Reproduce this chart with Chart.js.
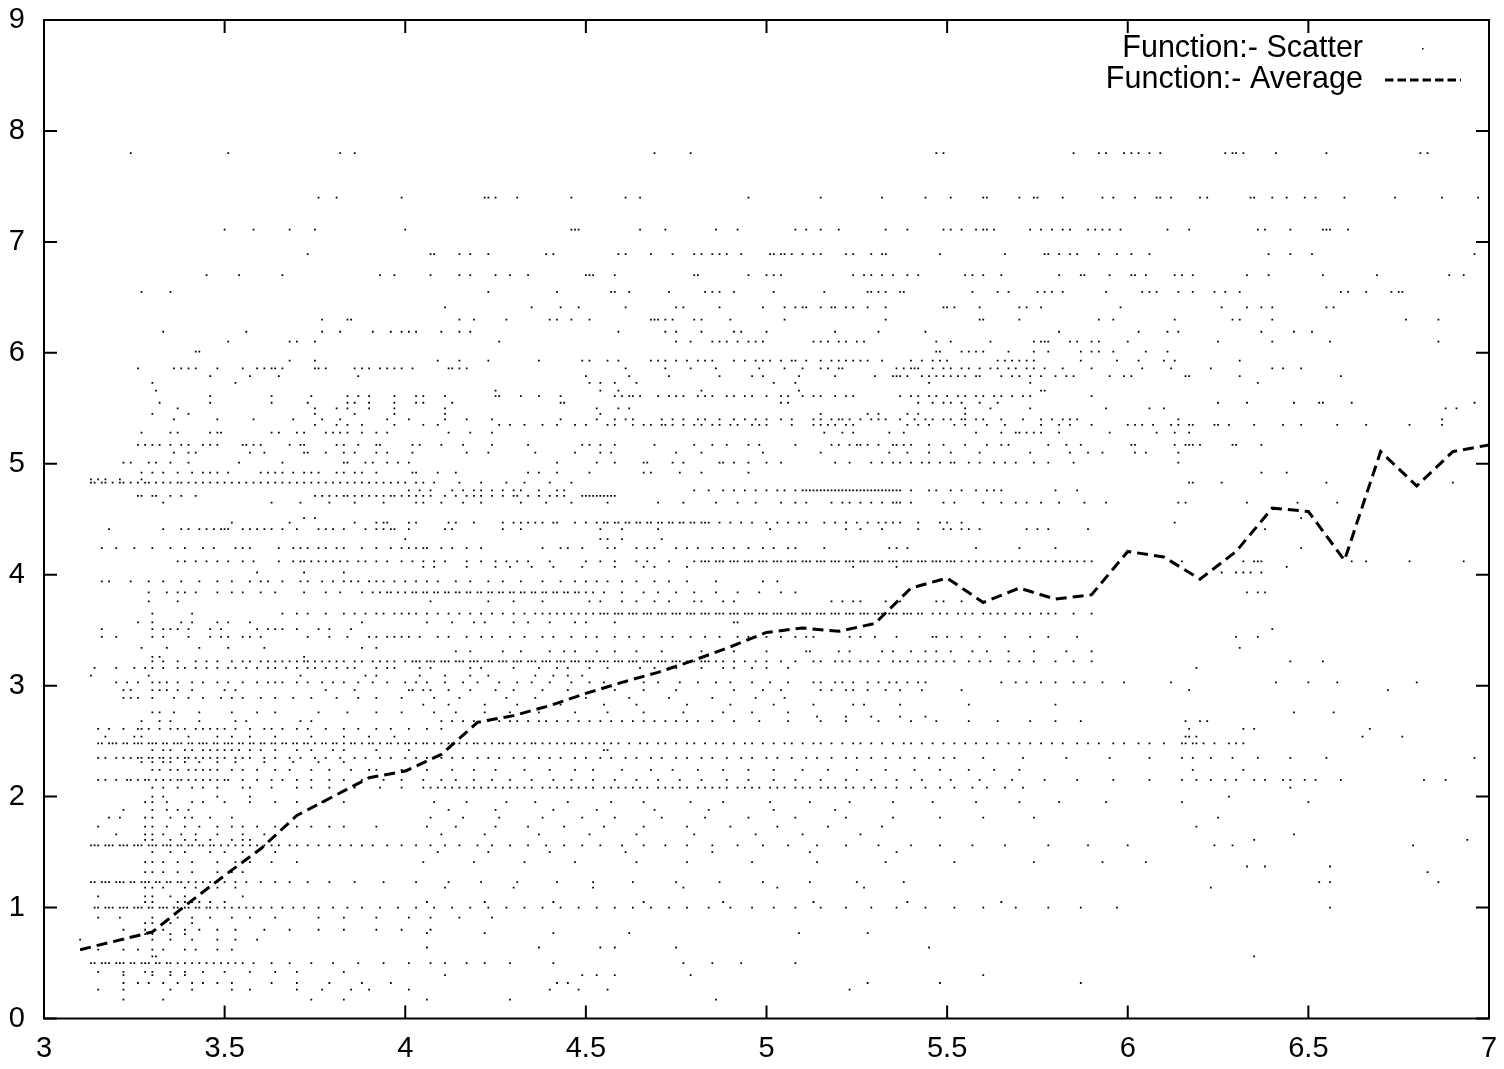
<!DOCTYPE html>
<html>
<head>
<meta charset="utf-8">
<script src="https://cdn.jsdelivr.net/npm/chart.js@4.4.1/dist/chart.umd.min.js"></script>
<style>
  html, body { margin: 0; padding: 0; background: #fff; }
  #wrap { width: 1504px; height: 1069px; }
</style>
</head>
<body>
<div id="wrap"><canvas id="chart" width="1504" height="1069"></canvas></div>
<script>
// averages per x step
const avgX = [3.1, 3.2, 3.3, 3.4, 3.5, 3.6, 3.7, 3.8, 3.9, 4.0, 4.1, 4.2, 4.3, 4.4, 4.5, 4.6, 4.7, 4.8, 4.9, 5.0,
              5.1, 5.2, 5.3, 5.4, 5.5, 5.6, 5.7, 5.8, 5.9, 6.0, 6.1, 6.2, 6.3, 6.4, 6.5, 6.6, 6.7, 6.8, 6.9, 7.0];
const avgY = [0.62, 0.70, 0.78, 1.04, 1.29, 1.53, 1.83, 2.00, 2.17, 2.23, 2.38, 2.67, 2.73, 2.82, 2.93, 3.03, 3.12, 3.23, 3.35, 3.48,
              3.52, 3.49, 3.56, 3.88, 3.97, 3.75, 3.88, 3.78, 3.82, 4.21, 4.16, 3.96, 4.21, 4.60, 4.57, 4.13, 5.11, 4.80, 5.11, 5.17];

const xTicks = [3, 3.5, 4, 4.5, 5, 5.5, 6, 6.5, 7];
const yTicks = [0, 1, 2, 3, 4, 5, 6, 7, 8, 9];

// scatter rows: [y level, x values]
const scatterHigh = [
  [7.80, [3.24,3.51,3.82,3.86,4.69,4.79,5.47,5.49,5.85,5.92,5.94,5.99,6.01,6.03,6.06,6.09,6.27,6.29,6.30,6.32,6.41,6.55,6.81,6.83]],
  [7.40, [3.76,3.81,3.99,4.22,4.23,4.25,4.31,4.46,4.61,4.65,4.95,5.15,5.32,5.44,5.51,5.60,5.61,5.70,5.74,5.75,5.82,5.93,5.96,6.02,6.08,6.09,6.12,6.20,6.22,6.34,6.35,6.40,6.44,6.49,6.52,6.60,6.74,6.87,6.97]],
  [7.11, [3.50,3.58,3.68,3.75,4.00,4.46,4.47,4.48,4.65,4.72,4.86,4.92,5.08,5.11,5.15,5.20,5.33,5.39,5.49,5.51,5.54,5.58,5.60,5.61,5.63,5.73,5.76,5.79,5.82,5.84,5.89,5.91,5.93,5.95,5.98,6.11,6.17,6.36,6.38,6.45,6.54,6.55,6.56,6.61]],
  [6.89, [3.73,4.07,4.08,4.15,4.18,4.23,4.39,4.41,4.59,4.61,4.68,4.74,4.80,4.82,4.85,4.87,4.89,4.93,5.01,5.02,5.04,5.05,5.07,5.10,5.13,5.15,5.22,5.24,5.29,5.32,5.33,5.48,5.66,5.77,5.78,5.81,5.84,5.86,5.92,5.97,6.01,6.06,6.39,6.45,6.51,6.96]],
  [6.70, [3.45,3.54,3.66,3.93,3.97,4.07,4.15,4.18,4.25,4.29,4.34,4.50,4.51,4.52,4.58,4.80,4.81,4.95,5.00,5.02,5.04,5.24,5.27,5.29,5.32,5.35,5.39,5.42,5.55,5.57,5.60,5.65,5.81,5.87,5.88,5.95,6.01,6.02,6.05,6.13,6.15,6.18,6.33,6.39,6.54,6.69,6.89,6.93]],
  [6.55, [3.27,3.35,4.23,4.42,4.57,4.58,4.62,4.73,4.83,4.85,4.87,4.91,5.02,5.16,5.28,5.29,5.31,5.33,5.37,5.38,5.57,5.64,5.67,5.75,5.77,5.79,5.82,5.94,6.04,6.06,6.08,6.14,6.18,6.24,6.27,6.31,6.59,6.61,6.66,6.73,6.75,6.76]],
  [6.41, [4.11,4.35,4.43,4.48,4.61,4.75,4.77,4.87,4.99,5.05,5.08,5.10,5.11,5.15,5.18,5.19,5.22,5.24,5.28,5.33,5.49,5.50,5.52,5.59,5.70,5.72,5.76,5.98,6.26,6.33,6.37,6.40,6.55,6.57]],
  [6.30, [3.77,3.84,3.85,4.15,4.19,4.28,4.40,4.42,4.46,4.51,4.68,4.69,4.70,4.72,4.74,4.80,4.82,4.90,5.05,5.33,5.59,5.60,5.70,5.92,5.96,6.13,6.29,6.31,6.40,6.77,6.86]],
  [6.19, [3.33,3.56,3.77,3.82,3.91,3.96,3.99,4.01,4.03,4.10,4.15,4.18,4.59,4.72,4.75,4.82,4.91,4.93,5.00,5.19,5.31,5.44,5.81,6.03,6.11,6.14,6.37,6.46,6.51]],
  [6.10, [3.51,3.68,3.70,3.75,4.26,4.75,4.79,4.85,4.87,4.89,4.92,4.95,4.97,4.99,5.13,5.15,5.17,5.20,5.22,5.25,5.27,5.47,5.51,5.62,5.74,5.76,5.77,5.78,5.84,5.86,5.90,5.92,6.00,6.25,6.40,6.56,6.86]],
  [6.01, [3.42,3.43,5.47,5.48,5.54,5.56,5.58,5.60,5.67,5.74,5.78,5.87,5.90,5.92,5.96,6.05,6.11]],
  [5.93, [3.68,3.75,4.09,4.15,4.23,4.37,4.49,4.51,4.56,4.59,4.68,4.70,4.72,4.75,4.78,4.81,4.83,4.85,4.91,4.94,4.97,4.99,5.01,5.04,5.07,5.08,5.11,5.15,5.18,5.20,5.22,5.24,5.26,5.28,5.32,5.40,5.43,5.46,5.48,5.50,5.64,5.66,5.68,5.70,5.72,5.74,5.87,5.97,6.03,6.10,6.13,6.31]],
  [5.86, [3.26,3.36,3.38,3.40,3.42,3.48,3.55,3.59,3.61,3.63,3.64,3.66,3.75,3.76,3.78,3.86,3.88,3.90,3.93,3.95,3.97,3.99,4.02,4.12,4.13,4.15,4.17,4.61,4.72,4.79,4.86,4.98,5.05,5.10,5.15,5.17,5.20,5.21,5.36,5.38,5.40,5.41,5.42,5.46,5.49,5.51,5.54,5.56,5.59,5.62,5.64,5.67,5.69,5.72,5.74,5.77,5.82,5.90,6.04,6.12,6.23,6.40,6.43,6.48]],
  [5.79, [3.46,3.57,3.65,3.87,4.50,4.62,4.73,4.87,4.96,4.99,5.09,5.19,5.30,5.35,5.36,5.37,5.39,5.43,5.45,5.47,5.49,5.51,5.53,5.55,5.58,5.59,5.65,5.68,5.70,5.73,5.76,5.80,5.83,5.85,5.95,5.99,6.01,6.16,6.17,6.31,6.59]],
  [5.73, [3.30,3.53,4.51,4.54,4.58,4.64,5.02,5.08,5.45,5.73,6.36]],
  [5.66, [3.31,4.25,4.54,4.59,4.82,5.09,5.76,5.77]],
  [5.61, [3.46,3.63,3.74,3.84,3.87,3.90,3.97,4.03,4.05,4.11,4.25,4.26,4.32,4.37,4.43,4.58,4.60,4.62,4.63,4.65,4.70,4.73,4.75,4.77,4.81,4.83,4.85,4.89,4.91,4.94,4.96,5.00,5.04,5.06,5.10,5.13,5.15,5.19,5.22,5.24,5.37,5.40,5.42,5.45,5.47,5.50,5.53,5.55,5.58,5.60,5.63,5.65,5.68,5.71,5.73,5.90]],
  [5.55, [3.32,3.46,3.63,3.73,3.84,3.86,3.90,3.97,4.03,4.05,4.13,4.43,4.44,5.04,5.06,5.42,5.46,5.49,5.51,5.54,5.59,5.64,6.25,6.33,6.46,6.53,6.54,6.62,6.96]],
  [5.50, [3.37,3.75,3.81,3.84,3.90,3.97,4.11,4.53,4.59,4.62,5.55,5.62,5.73,5.94,6.06,6.10,6.88,6.91]],
  [5.45, [3.30,3.40,3.75,3.86,3.97,4.11,4.54,5.15,5.28,5.31,5.39,5.42,5.55]],
  [5.40, [3.36,3.48,3.58,3.69,3.77,3.82,3.95,4.01,4.11,4.17,4.24,4.43,4.53,4.58,4.61,4.63,4.71,4.74,4.77,4.81,4.83,4.87,4.91,4.94,4.97,5.00,5.04,5.07,5.13,5.15,5.18,5.20,5.21,5.23,5.26,5.29,5.31,5.33,5.37,5.41,5.44,5.46,5.49,5.51,5.54,5.55,5.58,5.60,5.65,5.71,5.76,5.79,5.82,5.84,5.86,6.14,6.87]],
  [5.35, [3.75,3.81,3.84,3.88,3.97,4.05,4.09,4.26,4.29,4.33,4.38,4.42,4.47,4.50,4.56,4.58,4.63,4.66,4.68,4.71,4.72,4.74,4.77,4.80,4.82,4.85,4.87,4.90,4.92,4.96,4.98,5.00,5.07,5.13,5.15,5.17,5.19,5.22,5.24,5.39,5.42,5.45,5.52,5.55,5.61,5.66,5.76,5.81,5.84,5.90,6.00,6.02,6.04,6.07,6.12,6.14,6.17,6.18,6.24,6.25,6.28,6.35,6.43,6.48,6.58,6.66,6.78,6.87]]
];

const scatterMid = [
  [5.28, [3.27,3.35,3.37,3.46,3.48,3.49,3.63,3.65,3.70,3.72,3.78,3.80,3.82,3.84,3.88,3.92,3.95,4.12,4.18,4.24,5.16,5.21,5.24,5.34,5.38,5.58,5.65,5.69,5.70,5.72,5.74,5.76,5.81,5.95,6.08,6.13,6.17]],
  [5.17, [3.26,3.28,3.30,3.32,3.35,3.38,3.40,3.44,3.46,3.48,3.55,3.56,3.58,3.60,3.68,3.71,3.72,3.81,3.83,3.87,3.92,3.93,4.02,4.04,4.10,4.16,4.24,4.34,4.49,4.51,4.54,4.58,4.69,4.80,4.85,4.89,4.95,4.98,5.08,5.18,5.20,5.23,5.25,5.26,5.28,5.31,5.35,5.36,5.38,5.40,5.45,5.49,5.55,5.61,5.65,5.67,5.78,5.83,5.87,6.01,6.02,6.13,6.16,6.17,6.18,6.20,6.29,6.30,6.37]],
  [5.10, [3.36,3.40,3.42,3.57,3.61,3.72,3.73,3.78,3.83,3.86,3.92,3.95,4.02,4.17,4.23,4.36,4.47,4.54,4.57,4.75,4.82,4.99,5.15,5.34,5.39,5.45,5.51,5.59,5.73,5.84,5.89,5.93,6.02,6.05,6.14]],
  [5.01, [3.22,3.24,3.29,3.31,3.35,3.40,3.54,3.66,3.83,3.84,3.89,3.91,3.95,3.98,4.01,4.42,4.53,4.58,4.66,4.67,4.74,4.77,4.87,4.88,4.91,4.95,5.00,5.04,5.19,5.23,5.29,5.32,5.35,5.37,5.40,5.43,5.45,5.48,5.51,5.52,5.56,5.59,5.63,5.66,5.69,5.74,5.78,5.85,6.14]],
  [4.92, [3.27,3.30,3.33,3.37,3.41,3.44,3.46,3.48,3.51,3.60,3.62,3.64,3.66,3.69,3.72,3.74,3.76,3.81,3.83,3.86,3.88,3.92,4.02,4.03,4.09,4.14,4.34,4.37,4.42,4.51,4.66,4.68,4.76,4.82,4.95,6.37,6.44]],
  [4.86, [3.13,3.15,3.17,3.21,3.27]],
  [4.83, [3.13,3.14,3.16,3.17,3.19,3.21,3.22,3.24,3.26,3.28,3.29,3.31,3.33,3.35,3.37,3.38,3.40,3.42,3.44,3.46,3.48,3.50,3.52,3.54,3.56,3.58,3.60,3.62,3.64,3.66,3.68,3.70,3.72,3.74,3.76,3.78,3.80,3.82,3.84,3.86,3.88,3.90,3.92,3.94,3.96,3.98,4.00,4.03,4.05,4.08,4.15,4.21,4.28,4.33,4.40,4.46,6.17,6.18,6.26,6.55,6.90]],
  [4.76, [4.01,4.04,4.07,4.13,4.16,4.19,4.21,4.24,4.27,4.30,4.32,4.37,4.42,4.44,4.80,4.84,4.88,4.91,4.94,4.97,5.00,5.03,5.05,5.08,5.10,5.11,5.12,5.13,5.14,5.15,5.16,5.17,5.18,5.19,5.20,5.21,5.22,5.23,5.24,5.25,5.26,5.27,5.28,5.29,5.30,5.31,5.32,5.33,5.34,5.35,5.36,5.37,5.40,5.45,5.47,5.51,5.54,5.58,5.61,5.63,5.65,5.80,5.86]],
  [4.71, [3.26,3.27,3.30,3.31,3.35,3.38,3.42,3.75,3.77,3.79,3.81,3.83,3.84,3.86,3.88,3.90,3.92,3.94,3.96,3.97,3.99,4.01,4.03,4.05,4.07,4.11,4.14,4.17,4.19,4.21,4.24,4.27,4.30,4.31,4.34,4.37,4.40,4.42,4.44,4.49,4.50,4.51,4.52,4.53,4.54,4.55,4.56,4.57,4.58]],
  [4.65, [3.33,3.63,3.71,3.79,3.86,3.94,4.03,4.05,4.10,4.16,4.21,4.32,4.39,4.46,4.56,4.70,4.77,4.86,4.92,4.97,5.04,5.08,5.11,5.18,5.21,5.23,5.26,5.29,5.32,5.35,5.36,5.37,5.40,5.49,5.52,5.60,5.65,5.69,5.72,5.76,5.81,5.88,5.94,6.14,6.16,6.33,6.47,6.58]],
  [4.51, [3.72,3.75,6.48]],
  [4.47, [3.52,3.68,3.86,3.92,3.94,3.95,4.01,4.03,4.12,4.14,4.19,4.27,4.30,4.32,4.34,4.36,4.38,4.41,4.42,4.47,4.50,4.53,4.55,4.56,4.58,4.59,4.61,4.62,4.64,4.65,4.67,4.68,4.70,4.71,4.73,4.74,4.76,4.77,4.79,4.80,4.82,4.83,4.84,4.87,4.90,4.93,4.96,5.00,5.03,5.06,5.09,5.11,5.16,5.19,5.22,5.25,5.28,5.31,5.33,5.35,5.37,5.42,5.48,5.50,5.54,6.13]],
  [4.41, [3.18,3.33,3.38,3.40,3.43,3.45,3.47,3.49,3.50,3.51,3.55,3.57,3.59,3.61,3.63,3.66,3.70,3.76,3.78,3.80,3.83,3.89,3.92,3.94,3.96,3.97,4.01,4.11,4.13,4.27,4.32,4.54,4.60,4.70,5.01,5.22,5.26,5.32,5.42,5.49,5.51,5.54,5.56,5.59,5.72,5.75,5.78,5.89,6.38]],
  [4.32, [4.00,4.54,4.56,4.60,4.71]],
  [4.24, [3.16,3.20,3.25,3.30,3.35,3.39,3.44,3.47,3.53,3.55,3.57,3.65,3.69,3.71,3.73,3.76,3.78,3.81,3.83,3.88,3.92,3.96,3.99,4.01,4.03,4.05,4.06,4.10,4.13,4.17,4.21,4.38,4.43,4.45,4.49,4.56,4.58,4.64,4.67,4.69,4.75,4.78,4.81,4.85,4.88,4.91,4.95,4.99,5.02,5.06,5.08,5.16,5.34,5.36,5.39,5.58,5.70,5.80,6.48]],
  [4.12, [3.37,3.39,3.42,3.45,3.48,3.51,3.55,3.58,3.65,3.69,3.71,3.72,3.74,3.76,3.78,3.80,3.82,3.84,3.87,3.89,3.92,3.95,3.99,4.02,4.05,4.08,4.11,4.17,4.21,4.25,4.28,4.31,4.34,4.40,4.50,4.54,4.58,4.64,4.67,4.73,4.80,4.82,4.83,4.84,4.86,4.87,4.88,4.90,4.91,4.92,4.94,4.95,4.96,4.98,4.99,5.00,5.02,5.03,5.04,5.06,5.07,5.08,5.10,5.11,5.12,5.14,5.15,5.16,5.18,5.19,5.20,5.22,5.23,5.24,5.26,5.27,5.28,5.30,5.31,5.32,5.34,5.35,5.36,5.38,5.39,5.40,5.42,5.43,5.44,5.46,5.47,5.48,5.50,5.51,5.52,5.54,5.56,5.58,5.60,5.62,5.64,5.66,5.68,5.70,5.72,5.74,5.76,5.78,5.80,5.82,5.84,5.86,5.88,5.90,6.15,6.32,6.35,6.36,6.37,6.62,6.66,6.78,6.93]],
  [4.07, [4.05,4.08,4.17,4.25,4.29,4.35,4.41,4.49,4.58,4.66,4.69,4.78,5.24,5.36,6.44]],
  [4.02, [3.59,3.72,3.83,6.26,6.30,6.32,6.34,6.37]],
  [3.94, [3.16,3.18,3.24,3.29,3.33,3.38,3.43,3.48,3.52,3.57,3.60,3.62,3.66,3.71,3.73,3.77,3.80,3.83,3.85,3.87,3.90,3.92,3.94,3.97,4.00,4.03,4.06,4.09,4.14,4.18,4.23,4.27,4.32,4.38,4.43,4.47,4.50,4.53,4.56,4.60,4.64,4.69,4.73,4.78,4.86,4.99,5.03]],
  [3.84, [3.29,3.34,3.37,3.39,3.42,3.48,3.52,3.55,3.60,3.64,3.72,3.78,3.82,3.88,3.91,3.93,3.95,3.96,3.98,4.00,4.02,4.03,4.05,4.06,4.08,4.09,4.11,4.12,4.14,4.15,4.17,4.18,4.20,4.21,4.23,4.24,4.26,4.27,4.29,4.30,4.32,4.33,4.35,4.36,4.38,4.39,4.41,4.42,4.44,4.45,4.47,4.48,4.50,4.52,4.55,4.60,4.66,4.70,4.75,4.80,4.86,4.92,4.98,5.04,5.08,6.33,6.36,6.38]],
  [3.76, [3.29,3.37,4.07,4.23,4.30,4.38,4.51,4.54,4.60,4.64,4.69,4.73,4.80,4.82,4.88,4.91,5.18,5.21,5.24,5.26,5.33,5.37,5.47,5.49,5.54]],
  [3.65, [3.30,3.41,3.66,3.70,3.73,3.78,3.83,3.86,3.89,3.92,3.94,3.97,3.99,4.01,4.03,4.06,4.09,4.12,4.15,4.18,4.21,4.24,4.27,4.30,4.33,4.36,4.38,4.40,4.42,4.44,4.46,4.48,4.50,4.52,4.54,4.55,4.56,4.58,4.59,4.60,4.62,4.63,4.64,4.66,4.67,4.68,4.70,4.71,4.72,4.74,4.75,4.76,4.78,4.79,4.80,4.82,4.83,4.84,4.86,4.87,4.88,4.90,4.91,4.92,4.94,4.95,4.96,4.98,4.99,5.00,5.02,5.03,5.04,5.06,5.07,5.08,5.10,5.11,5.12,5.14,5.15,5.16,5.18,5.19,5.20,5.22,5.23,5.24,5.26,5.27,5.28,5.30,5.31,5.32,5.34,5.35,5.36,5.38,5.39,5.40,5.42,5.43,5.46,5.48,5.50,5.53,5.55,5.57,5.60,5.62,5.64,5.66,5.69,5.71,5.73,5.76,5.78,5.80,5.85,5.90]],
  [3.57, [3.26,3.30,3.38,3.41,3.48,3.51,3.57,3.88,4.06,4.13,4.19,4.22,4.30,4.34,4.40,4.47,4.50,4.58,4.91,4.92]],
  [3.51, [3.16,3.30,3.33,3.35,3.37,3.40,3.46,3.49,3.59,3.62,3.64,3.66,3.70,3.76,3.79,3.85,6.40]],
  [3.44, [3.16,3.20,3.30,3.33,3.40,3.46,3.49,3.51,3.55,3.57,3.60,3.73,3.79,3.84,3.90,3.92,3.95,3.97,3.99,4.01,4.04,4.09,4.12,4.17,4.21,4.24,4.29,4.33,4.38,4.41,4.46,4.50,4.53,4.58,4.62,4.66,4.71,4.74,4.79,4.83,4.87,4.92,4.95,5.00,5.04,5.08,5.11,5.13,5.23,5.26,5.30,5.36,5.46,5.47,5.50,5.54,5.59,5.66,5.73,5.78,5.86,6.30,6.36]],
  [3.34, [3.27,3.34,3.43,3.51,3.61,3.88,3.92,6.31]],
  [3.31, [4.14,4.18,4.27,4.32,4.40,4.44,4.47,4.53,4.58,4.64,4.71,4.82,4.91,5.00,5.11,5.12,5.20,5.23,5.32,5.35,5.40,5.44,5.47,5.51,5.57,5.61,5.67,5.74,5.83,5.90]],
  [3.26, [3.30,3.32,3.72]],
  [3.22, [3.30,3.33,3.37,3.42,3.45,3.48,3.52,3.55,3.57,3.60,3.62,3.64,3.66,3.68,3.70,3.72,3.73,3.75,3.77,3.79,3.81,3.83,3.86,3.88,3.91,3.93,3.95,3.97,4.00,4.02,4.03,4.04,4.06,4.07,4.08,4.10,4.11,4.12,4.14,4.15,4.16,4.18,4.19,4.20,4.22,4.23,4.24,4.26,4.27,4.28,4.30,4.31,4.32,4.34,4.35,4.36,4.38,4.39,4.40,4.42,4.43,4.44,4.46,4.47,4.48,4.50,4.51,4.52,4.54,4.55,4.56,4.58,4.59,4.60,4.62,4.63,4.64,4.66,4.67,4.68,4.70,4.71,4.72,4.74,4.75,4.76,4.78,4.79,4.80,4.82,4.83,4.84,4.86,4.88,4.91,4.94,4.97,5.00,5.04,5.08,5.13,5.15,5.19,5.21,5.23,5.26,5.28,5.31,5.35,5.37,5.39,5.42,5.44,5.47,5.49,5.52,5.56,5.59,5.62,5.67,5.70,5.74,5.80,5.85,5.90,6.45,6.54]],
  [3.16, [3.14,3.20,3.25,3.28,3.30,3.33,3.37,3.39,3.42,3.45,3.48,3.51,3.53,3.56,3.59,3.62,3.64,3.67,3.70,3.73,3.75,3.78,3.81,3.84,3.86,3.92,3.95,3.97,4.04,4.07,4.18,4.21,4.30,4.37,4.42,4.45,4.51,4.56,4.65,4.69,4.75,4.82,4.88,4.91,4.96,5.00,5.06,6.19]],
  [3.09, [3.13,3.29,3.71,3.89,3.92,4.04,4.11,4.18,4.23,4.36,4.41,4.45,4.49]],
  [3.03, [3.20,3.23,3.26,3.30,3.32,3.34,3.37,3.41,3.44,3.48,3.51,3.55,3.59,3.62,3.64,3.66,3.70,3.73,3.77,3.80,3.83,3.87,3.91,3.95,4.00,4.03,4.06,4.11,4.16,4.20,4.26,4.31,4.35,4.40,4.46,4.51,4.55,4.61,4.66,4.70,4.76,4.81,4.86,4.90,4.96,5.01,5.06,5.13,5.15,5.19,5.21,5.24,5.28,5.31,5.34,5.36,5.39,5.42,5.44,5.65,5.69,5.72,5.76,5.80,5.85,5.88,5.93,5.99,6.12,6.41,6.50,6.58,6.80]],
  [2.96, [3.22,3.24,3.30,3.32,3.34,3.37,3.41,3.50,3.53,3.78,3.86,4.01,4.02,4.05,4.07,4.12,4.18,4.25,4.30,4.38,4.45,4.58,4.66,4.75,4.91,4.99,5.04,5.15,5.18,5.22,5.24,5.28,5.33,5.37,5.43,5.54,6.17,6.72]],
  [2.89, [3.22,3.24,3.26,3.30,3.36,3.40,3.44,3.49,3.52,3.55,3.60,3.64,3.69,3.74,3.81,3.87,3.92,3.99,4.08,4.15,4.28,4.36,4.50,4.62,4.73,4.85,4.97,5.05]],
  [2.83, [4.05,4.12,4.22,4.31,4.43,4.55,4.64,4.78,4.90,5.02,5.13,5.24,5.27,5.37,5.56,5.80]]
];

const scatterLow = [
  [2.76, [3.30,3.32,3.36,3.43,3.52,3.59,3.64,3.76,3.84,3.92,3.99,4.08,4.14,4.22,4.29,4.37,4.47,4.56,4.66,4.77,4.88,4.96,5.06,6.46,6.57]],
  [2.72, [5.14,5.22,5.29,5.37,5.44]],
  [2.68, [3.27,3.32,3.35,3.43,3.53,3.56,3.71,3.74,4.10,4.13,4.16,4.19,4.23,4.26,4.29,4.31,4.34,4.37,4.39,4.42,4.45,4.48,4.51,4.54,4.57,4.60,4.63,4.66,4.69,4.72,4.75,4.78,4.81,4.85,4.91,4.98,5.06,5.15,5.22,5.31,5.40,5.47,5.56,5.64,5.73,5.80,5.87,6.16,6.20,6.22]],
  [2.61, [3.15,3.18,3.22,3.26,3.27,3.29,3.32,3.35,3.37,3.39,3.42,3.44,3.46,3.48,3.50,3.53,3.57,3.61,3.63,3.66,3.70,3.73,3.78,3.83,3.87,3.92,3.96,4.01,4.06,4.10,6.17,6.32,6.35,6.67]],
  [2.54, [3.17,3.25,3.27,3.40,3.48,3.52,3.57,3.64,3.74,3.83,3.90,3.97,6.16,6.17,6.19,6.65,6.76]],
  [2.48, [3.15,3.16,3.18,3.19,3.20,3.22,3.23,3.25,3.26,3.27,3.29,3.30,3.31,3.33,3.34,3.36,3.37,3.38,3.40,3.41,3.43,3.44,3.45,3.47,3.48,3.50,3.51,3.52,3.54,3.55,3.57,3.58,3.60,3.61,3.63,3.64,3.66,3.67,3.69,3.70,3.72,3.73,3.75,3.77,3.78,3.80,3.81,3.83,3.85,3.86,3.88,3.90,3.91,3.93,3.95,3.96,3.98,4.00,4.01,4.03,4.05,4.06,4.08,4.10,4.12,4.13,4.15,4.17,4.19,4.20,4.22,4.24,4.26,4.27,4.29,4.31,4.33,4.35,4.36,4.38,4.40,4.42,4.44,4.46,4.47,4.49,4.51,4.53,4.55,4.57,4.59,4.62,4.65,4.67,4.70,4.72,4.75,4.78,4.80,4.83,4.86,4.88,4.91,4.94,4.96,4.99,5.02,5.05,5.07,5.10,5.13,5.15,5.18,5.21,5.24,5.26,5.29,5.32,5.35,5.38,5.40,5.43,5.46,5.49,5.52,5.55,5.58,5.61,5.64,5.67,5.70,5.73,5.76,5.79,5.82,5.86,5.89,5.92,5.96,5.99,6.03,6.06,6.10,6.15,6.16,6.18,6.19,6.21,6.24,6.28,6.30,6.32]],
  [2.42, [3.30,3.33,3.35,3.39,3.41,3.44,3.46,3.48,3.50,3.52,3.54,3.57,3.60,3.64,3.70,3.74,3.80,3.83,3.92,4.01,4.55,4.56]],
  [2.35, [3.15,3.17,3.20,3.22,3.24,3.26,3.27,3.29,3.30,3.32,3.33,3.35,3.37,3.39,3.40,3.42,3.44,3.46,3.48,3.50,3.53,3.55,3.57,3.61,3.64,3.68,3.71,3.75,3.78,3.82,3.86,3.89,3.93,3.96,4.00,4.03,4.06,4.10,4.13,4.16,4.20,4.23,4.26,4.30,4.33,4.37,4.40,4.43,4.47,4.50,4.54,4.57,4.61,4.64,4.68,4.71,4.75,4.78,4.82,4.85,4.89,4.93,4.96,5.00,5.03,5.07,5.11,5.14,5.18,5.22,5.25,5.29,5.33,5.37,5.41,5.45,5.49,5.52,5.60,5.71,5.83,5.95,6.06,6.15,6.18,6.23,6.29,6.36,6.45,6.55,6.96]],
  [2.31, [3.27,3.30,3.33,3.35,3.39,3.43,3.48,3.53,3.61,3.69,3.76,3.83]],
  [2.24, [3.30,3.32,3.35,3.37,3.40,3.42,3.44,3.46,3.48,3.52,3.55,3.59,3.64,3.68,3.74,3.79,3.85,3.90,3.92,3.99,4.06,4.13,4.19,4.25,4.33,4.40,4.47,4.52,4.60,4.68,4.74,4.81,4.88,4.95,5.02,5.10,5.17,5.25,5.33,5.41,5.48,5.56,5.63,5.70,6.18,6.32]],
  [2.15, [3.15,3.17,3.20,3.23,3.24,3.26,3.28,3.29,3.31,3.33,3.35,3.37,3.38,3.40,3.42,3.44,3.46,3.48,3.50,3.51,3.55,3.59,3.63,3.66,3.70,3.74,3.79,3.83,3.88,3.94,3.99,4.05,4.10,4.14,4.19,4.24,4.29,4.35,4.41,4.46,4.52,4.58,4.64,4.70,4.76,4.82,4.89,4.95,5.02,5.08,5.15,5.22,5.29,5.36,5.43,5.51,5.59,5.68,5.77,5.86,5.96,6.06,6.15,6.19,6.23,6.27,6.30,6.35,6.38,6.43,6.45,6.49,6.52,6.59,6.82,6.88]],
  [2.08, [3.30,3.33,3.37,3.41,3.44,3.48,3.55,3.57,3.63,3.70,3.74,3.79,3.86,3.93,3.99,4.05,4.07,4.09,4.11,4.13,4.15,4.17,4.19,4.21,4.23,4.25,4.27,4.29,4.31,4.33,4.35,4.38,4.40,4.42,4.44,4.46,4.48,4.50,4.52,4.55,4.57,4.59,4.61,4.63,4.65,4.67,4.70,4.72,4.74,4.76,4.78,4.81,4.83,4.85,4.87,4.89,4.92,4.94,4.96,4.98,5.01,5.03,5.05,5.08,5.10,5.12,5.15,5.17,5.19,5.22,5.24,5.27,5.30,5.33,5.36,5.40,5.44,5.48,5.52,5.57,5.61,5.66,5.71,6.45]],
  [2.00, [3.30,3.33,3.48,3.57,6.28]],
  [1.95, [3.28,3.30,3.34,3.41,3.44,3.50,3.57,3.64,3.70,3.77,3.83,4.08,4.17,4.28,4.36,4.45,4.57,4.66,4.79,4.88,5.01,5.12,5.23,5.35,5.46,5.58,5.70,5.81,5.94,6.15,6.50]],
  [1.88, [3.22,3.30,3.34,3.37,3.40,4.12,4.25,4.41,4.53,4.69,4.84,5.02,5.19]],
  [1.81, [3.18,3.21,3.28,3.30,3.35,3.39,3.41,3.46,3.52,4.07,4.16,4.26,4.38,4.49,4.58,4.71,4.83,4.95,5.08,5.22,5.35,5.48,5.60,5.74,6.25]],
  [1.73, [3.15,3.28,3.30,3.34,3.39,3.43,3.48,3.52,3.55,3.59,3.64,3.70,3.74,3.79,3.83,3.92,4.06,4.14,4.25,4.34,4.44,4.55,4.66,4.78,4.90,5.03,5.17,5.32,6.19]],
  [1.66, [3.20,3.28,3.30,3.33,3.38,3.42,3.48,3.55,3.61,4.10,4.22,4.37,4.51,4.64,4.80,4.97,5.10,5.26,6.46]],
  [1.61, [3.28,3.30,3.35,3.39,3.42,3.46,3.52,3.55,3.57,6.35,6.94]],
  [1.56, [3.13,3.14,3.15,3.17,3.18,3.19,3.21,3.22,3.23,3.25,3.26,3.27,3.29,3.30,3.31,3.33,3.34,3.35,3.37,3.38,3.40,3.41,3.43,3.44,3.46,3.47,3.49,3.51,3.53,3.55,3.57,3.59,3.61,3.63,3.65,3.68,3.70,3.73,3.76,3.79,3.82,3.85,3.88,3.91,3.95,3.99,4.03,4.07,4.11,4.15,4.20,4.24,4.29,4.34,4.39,4.44,4.49,4.54,4.60,4.66,4.72,4.78,4.85,4.92,4.99,5.06,5.14,5.22,5.31,5.40,5.48,5.57,5.66,5.78,5.89,6.00,6.24,6.29,6.79]],
  [1.50, [3.30,3.35,3.39,3.46,3.50,3.55,3.64,4.09,4.23,4.40,4.61,4.85,5.12,5.36]],
  [1.41, [3.28,3.30,3.33,3.37,3.41,3.48,3.53,3.57,3.63,3.70,4.05,4.19,4.33,4.47,4.64,4.78,4.96,5.14,5.33,5.52,5.74,5.93,6.05]],
  [1.37, [6.33,6.38,6.56]],
  [1.32, [3.28,3.30,3.33,3.37,3.41,3.48,3.52,3.55,6.83]],
  [1.23, [3.13,3.14,3.16,3.17,3.18,3.20,3.21,3.22,3.24,3.25,3.27,3.28,3.29,3.31,3.32,3.34,3.35,3.37,3.38,3.40,3.42,3.44,3.46,3.48,3.50,3.53,3.56,3.60,3.64,3.68,3.73,3.79,3.86,3.94,4.03,4.12,4.21,4.31,4.42,4.52,4.63,4.75,4.87,4.99,5.12,5.25,5.38,6.53,6.56,6.86]],
  [1.18, [3.28,3.30,3.33,3.39,3.42,3.48,3.53,4.11,4.30,4.52,4.77,5.03,5.27,6.23]],
  [1.10, [3.15,3.28,3.30,3.35,3.39,3.55]],
  [1.05, [3.28,3.30,3.37,3.39,3.41,3.43,3.46,3.50,4.06,4.22,4.41,4.66,4.88,5.13,5.39,5.65]],
  [1.00, [3.14,3.15,3.17,3.18,3.19,3.21,3.22,3.23,3.25,3.26,3.27,3.29,3.30,3.32,3.33,3.34,3.36,3.37,3.39,3.40,3.42,3.43,3.45,3.46,3.48,3.50,3.52,3.54,3.56,3.58,3.60,3.63,3.66,3.69,3.72,3.76,3.80,3.84,3.88,3.93,3.98,4.03,4.08,4.13,4.18,4.23,4.28,4.33,4.38,4.43,4.48,4.53,4.58,4.63,4.68,4.73,4.78,4.84,4.90,4.96,5.02,5.08,5.15,5.22,5.29,5.36,5.44,5.52,5.60,5.69,5.78,5.87,5.97,6.56]],
  [0.91, [3.15,3.21,3.30,3.37,3.41,3.46,3.52,3.57,3.64,3.76,3.83,3.92,4.01,4.07,4.15,4.24]],
  [0.86, [3.28,3.30,3.35,3.41]],
  [0.80, [3.22,3.28,3.33,3.39,3.43,3.48,3.53,3.61,3.68,3.76,3.83,3.92,3.99,4.07]],
  [0.77, [4.06,4.22,4.41,4.62,5.09,5.28]],
  [0.76, [3.28,3.30,3.35,3.39]],
  [0.71, [3.10,3.22,3.30,3.35,3.41,3.48,3.53,3.59]],
  [0.64, [4.06,4.37,4.54,4.58,4.75,5.45]],
  [0.62, [3.15,3.22,3.26,3.30,3.33,3.39,3.42,3.48,3.52]],
  [0.56, [3.30,3.31,6.35]],
  [0.50, [3.13,3.14,3.16,3.17,3.18,3.20,3.21,3.22,3.24,3.25,3.27,3.28,3.29,3.31,3.32,3.34,3.35,3.37,3.39,3.41,3.43,3.45,3.47,3.49,3.51,3.53,3.55,3.58,3.63,3.68,3.74,3.80,3.87,3.94,4.01,4.07,4.11,4.17,4.22,4.29,4.41,4.77,4.85,4.93,5.08]],
  [0.42, [3.15,3.22,3.28,3.30,3.35,3.39,3.44,3.50,3.57,3.64,3.70,3.83]],
  [0.39, [3.22,3.30,3.35,3.39,4.11,4.49,4.53,4.58,4.79,5.60]],
  [0.32, [3.22,3.26,3.29,3.33,3.37,3.41,3.44,3.48,3.52,3.63,3.70,3.79,3.88,3.96,4.42,4.45,5.28,5.48,5.87]],
  [0.26, [3.15,3.22,3.35,3.41,3.52,3.57,3.70,3.77,3.85,3.90,4.01,4.40,4.48,4.56,5.23]],
  [0.17, [3.22,3.33,3.74,3.83,4.06,4.29,4.86]]
];

const FONT = '"Liberation Sans", Arial, Helvetica, sans-serif';
const FONT_SIZE = 29;
const KEY_FONT_SIZE = 30.5;

function rowsToPoints(rows) {
  const pts = [];
  rows.forEach(function(row) {
    row[1].forEach(function(x) { pts.push({ x: x, y: row[0] }); });
  });
  return pts;
}

const scatterPoints = rowsToPoints(scatterHigh).concat(rowsToPoints(scatterMid), rowsToPoints(scatterLow));
const avgPoints = avgX.map(function(x, i) { return { x: x, y: avgY[i] }; });

// gnuplot style frame: box, inward ticks on all 4 sides, key at top right
const framePlugin = {
  id: 'frame',
  afterDraw(chart) {
    const ctx = chart.ctx;
    const a = chart.chartArea;
    const xs = chart.scales.x;
    const ys = chart.scales.y;
    const tickLen = 13;
    ctx.save();
    ctx.strokeStyle = '#000';
    ctx.lineWidth = 2;
    ctx.strokeRect(a.left, a.top, a.right - a.left, a.bottom - a.top);
    ctx.beginPath();
    xTicks.forEach(function(v) {
      const px = xs.getPixelForValue(v);
      ctx.moveTo(px, a.bottom); ctx.lineTo(px, a.bottom - tickLen);
      ctx.moveTo(px, a.top); ctx.lineTo(px, a.top + tickLen);
    });
    yTicks.forEach(function(v) {
      const py = ys.getPixelForValue(v);
      ctx.moveTo(a.left, py); ctx.lineTo(a.left + tickLen, py);
      ctx.moveTo(a.right, py); ctx.lineTo(a.right - tickLen, py);
    });
    ctx.stroke();

    // key
    ctx.fillStyle = '#000';
    ctx.font = KEY_FONT_SIZE + 'px ' + FONT;
    ctx.textAlign = 'right';
    ctx.textBaseline = 'alphabetic';
    ctx.fillText(chart.data.datasets[0].label, 1363, 57);
    ctx.fillText(chart.data.datasets[1].label, 1363, 88);
    ctx.fillRect(1422, 48, 1.5, 1.5);
    ctx.lineWidth = 3;
    ctx.setLineDash([8.5, 4]);
    ctx.beginPath();
    ctx.moveTo(1385, 80);
    ctx.lineTo(1461, 80);
    ctx.stroke();
    ctx.restore();
  }
};

const ctx = document.getElementById('chart').getContext('2d');
new Chart(ctx, {
  type: 'scatter',
  data: {
    datasets: [
      {
        label: 'Function:- Scatter',
        data: scatterPoints,
        backgroundColor: '#000',
        borderWidth: 0,
        pointStyle: 'rect',
        pointRadius: 1.25,
        showLine: false,
        order: 2
      },
      {
        type: 'line',
        label: 'Function:- Average',
        data: avgPoints,
        borderColor: '#000',
        borderWidth: 3,
        borderDash: [11, 6],
        pointRadius: 0,
        fill: false,
        tension: 0,
        order: 1
      }
    ]
  },
  options: {
    responsive: false,
    animation: false,
    events: [],
    layout: { padding: { top: 20, right: 15, left: 0, bottom: 0 } },
    plugins: {
      legend: { display: false },
      tooltip: { enabled: false }
    },
    scales: {
      x: {
        type: 'linear',
        min: 3,
        max: 7,
        afterBuildTicks: function(scale) { scale.ticks = xTicks.map(function(v) { return { value: v }; }); },
        afterFit: function(scale) {
          scale.height = 50.5;
          scale.paddingLeft = 0;
          scale.paddingRight = 0;
        },
        ticks: {
          color: '#000',
          padding: 13,
          maxRotation: 0,
          autoSkip: false,
          font: { family: FONT, size: FONT_SIZE },
          callback: function(v) { return String(v); }
        },
        grid: { display: false, drawTicks: false },
        border: { display: false }
      },
      y: {
        type: 'linear',
        min: 0,
        max: 9,
        afterBuildTicks: function(scale) { scale.ticks = yTicks.map(function(v) { return { value: v }; }); },
        afterFit: function(scale) {
          scale.width = 44;
          scale.paddingTop = 0;
          scale.paddingBottom = 0;
        },
        ticks: {
          color: '#000',
          padding: 19,
          autoSkip: false,
          font: { family: FONT, size: FONT_SIZE },
          callback: function(v) { return String(v); }
        },
        grid: { display: false, drawTicks: false },
        border: { display: false }
      }
    }
  },
  plugins: [framePlugin]
});
</script>
</body>
</html>
